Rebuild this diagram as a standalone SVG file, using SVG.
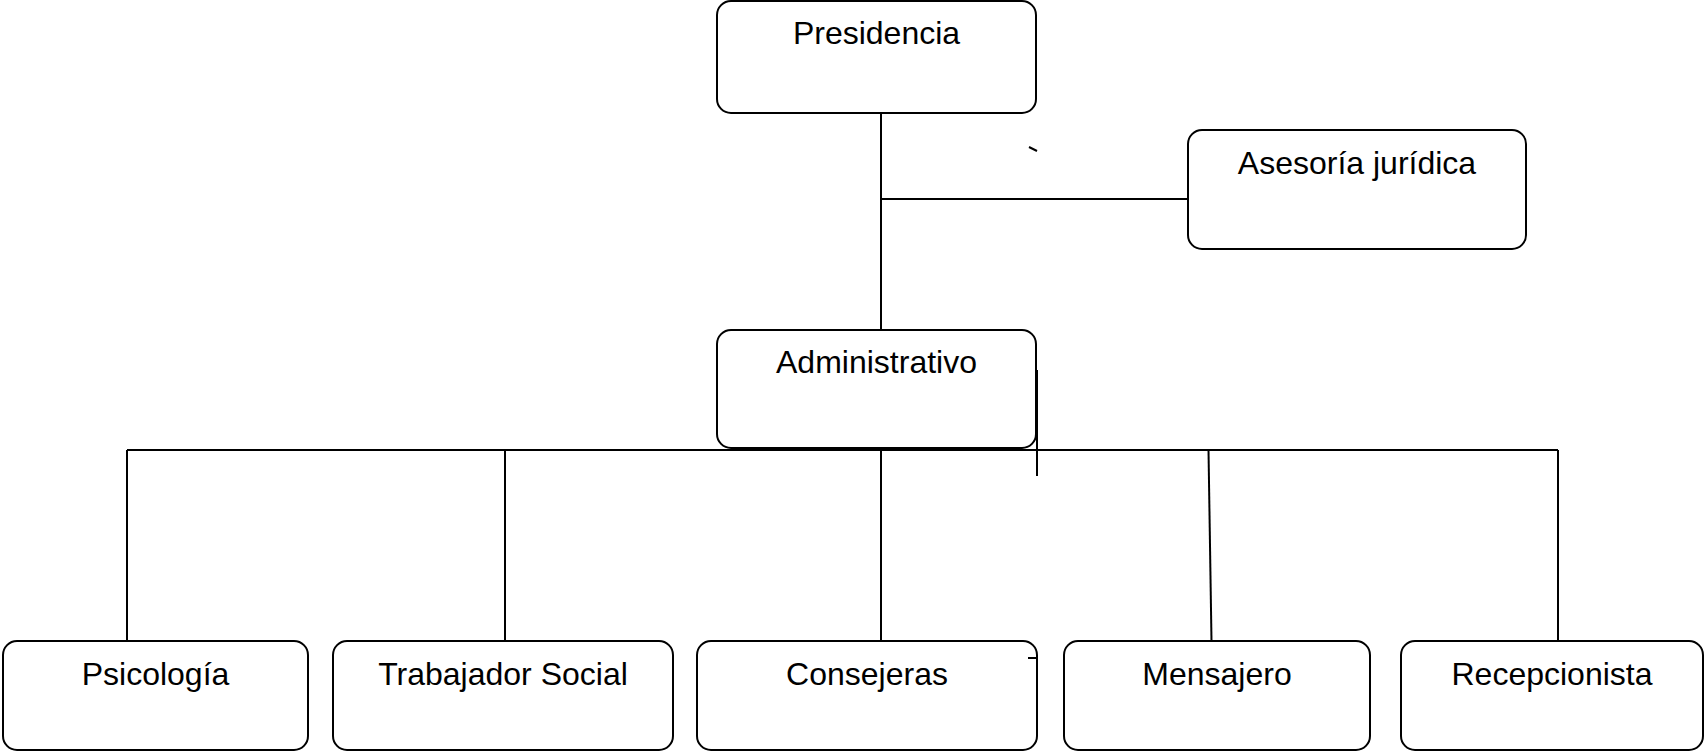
<svg xmlns="http://www.w3.org/2000/svg" width="1705" height="752" viewBox="0 0 1705 752">
<style>
.box{fill:none;stroke:#000;stroke-width:2}
.lbl{font-family:"Liberation Sans",Arial,sans-serif;font-size:32px;fill:#000;text-anchor:middle}
.ln{stroke:#000;stroke-width:2;fill:none}
</style>
<rect width="1705" height="752" fill="#fff"/>
<g id="connectors">
<line class="ln" x1="881" y1="113" x2="881" y2="330"/>
<line class="ln" x1="881" y1="199" x2="1188" y2="199"/>
<line class="ln" x1="127" y1="450" x2="1558" y2="450"/>
<line class="ln" x1="881" y1="448" x2="881" y2="641"/>
<line class="ln" x1="127" y1="450" x2="127" y2="641"/>
<line class="ln" x1="505" y1="450" x2="505" y2="641"/>
<line class="ln" x1="1208.5" y1="450" x2="1211.5" y2="641"/>
<line class="ln" x1="1558" y1="450" x2="1558" y2="641"/>
<line class="ln" x1="1037" y1="370" x2="1037" y2="476"/>
<line class="ln" x1="1029" y1="147" x2="1037" y2="151"/>
<line class="ln" x1="1028" y1="658" x2="1037" y2="658"/>
</g>
<g id="presidencia">
<rect class="box" x="717" y="1" width="319" height="112" rx="14"/>
<text class="lbl" x="876.5" y="44">Presidencia</text>
</g>
<g id="asesoria">
<rect class="box" x="1188" y="130" width="338" height="119" rx="14"/>
<text class="lbl" x="1357" y="174">Asesoría jurídica</text>
</g>
<g id="administrativo">
<rect class="box" x="717" y="330" width="319" height="118" rx="14"/>
<text class="lbl" x="876.5" y="373">Administrativo</text>
</g>
<g id="psicologia">
<rect class="box" x="3" y="641" width="305" height="109" rx="14"/>
<text class="lbl" x="155.5" y="685">Psicología</text>
</g>
<g id="trabajador">
<rect class="box" x="333" y="641" width="340" height="109" rx="14"/>
<text class="lbl" x="503" y="685">Trabajador Social</text>
</g>
<g id="consejeras">
<rect class="box" x="697" y="641" width="340" height="109" rx="14"/>
<text class="lbl" x="867" y="685">Consejeras</text>
</g>
<g id="mensajero">
<rect class="box" x="1064" y="641" width="306" height="109" rx="14"/>
<text class="lbl" x="1217" y="685">Mensajero</text>
</g>
<g id="recepcionista">
<rect class="box" x="1401" y="641" width="302" height="109" rx="14"/>
<text class="lbl" x="1552" y="685">Recepcionista</text>
</g>
</svg>
